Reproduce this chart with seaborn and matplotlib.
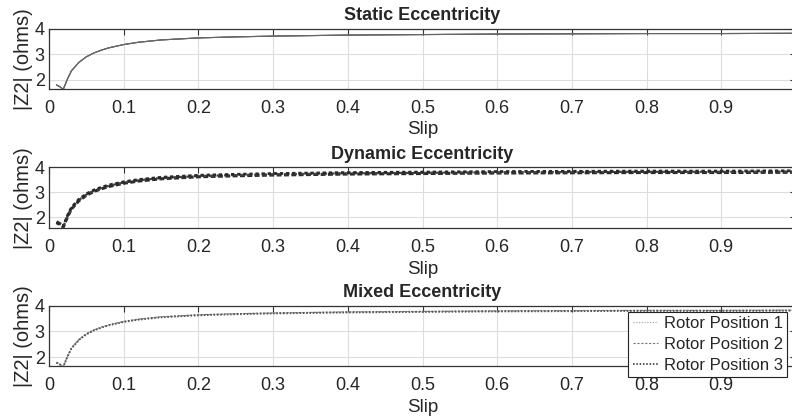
import numpy as np
import pandas as pd
import matplotlib
matplotlib.use("Agg")
import matplotlib.pyplot as plt
import seaborn as sns

# ---- data ----
slip = [0.010, 0.015, 0.019, 0.025, 0.030, 0.040, 0.050, 0.060, 0.070, 0.080,
        0.100, 0.120, 0.150, 0.200, 0.250, 0.300, 0.400, 0.500, 0.600, 0.700,
        0.800, 0.900, 1.000]

static_z = [1.80, 1.72, 1.62, 2.05, 2.35, 2.68, 2.90, 3.05, 3.16, 3.25,
            3.38, 3.47, 3.56, 3.64, 3.68, 3.71, 3.75, 3.77, 3.79, 3.80,
            3.81, 3.81, 3.82]

dynamic_z1 = [1.82, 1.74, 1.60, 2.03, 2.33, 2.66, 2.88, 3.03, 3.14, 3.23,
              3.36, 3.45, 3.54, 3.62, 3.66, 3.69, 3.73, 3.75, 3.77, 3.78,
              3.79, 3.79, 3.80]
dynamic_z2 = [1.80, 1.72, 1.62, 2.06, 2.36, 2.69, 2.91, 3.06, 3.17, 3.26,
              3.39, 3.48, 3.57, 3.65, 3.69, 3.72, 3.76, 3.78, 3.80, 3.81,
              3.82, 3.82, 3.83]
dynamic_z3 = [1.78, 1.70, 1.64, 2.09, 2.39, 2.72, 2.94, 3.09, 3.20, 3.29,
              3.42, 3.51, 3.60, 3.68, 3.72, 3.75, 3.79, 3.81, 3.83, 3.84,
              3.85, 3.85, 3.86]

mixed_z1 = [1.80, 1.72, 1.62, 2.05, 2.35, 2.68, 2.90, 3.05, 3.16, 3.25,
            3.38, 3.47, 3.56, 3.64, 3.68, 3.71, 3.75, 3.77, 3.79, 3.80,
            3.81, 3.81, 3.82]
mixed_z2 = [1.81, 1.73, 1.62, 2.06, 2.36, 2.69, 2.91, 3.06, 3.17, 3.26,
            3.39, 3.48, 3.57, 3.65, 3.69, 3.72, 3.76, 3.78, 3.80, 3.81,
            3.82, 3.82, 3.83]
mixed_z3 = [1.79, 1.71, 1.63, 2.04, 2.34, 2.67, 2.89, 3.04, 3.15, 3.24,
            3.37, 3.46, 3.55, 3.63, 3.67, 3.70, 3.74, 3.76, 3.78, 3.79,
            3.80, 3.80, 3.81]

titles = ["Static Eccentricity", "Dynamic Eccentricity", "Mixed Eccentricity"]
positions = ["Rotor Position 1", "Rotor Position 2", "Rotor Position 3"]
x_ticks = [0, 0.1, 0.2, 0.3, 0.4, 0.5, 0.6, 0.7, 0.8, 0.9, 1.0]
x_tick_labels = ["0", "0.1", "0.2", "0.3", "0.4", "0.5", "0.6", "0.7", "0.8", "0.9", "1"]
y_ticks = [2, 3, 4]

# ---- styling ----
sns.set_theme(style="white")
plt.rcParams["font.family"] = ["Liberation Sans", "DejaVu Sans"]
plt.rcParams["xtick.direction"] = "in"
plt.rcParams["ytick.direction"] = "in"

fig = plt.figure(figsize=(7.92, 4.19), dpi=100)

left = 49 / 792
width = (796 - 49) / 792
tops = [28.7, 167.3, 305.7]
bottoms = [89.0, 228.3, 366.3]
ylims = [(1.64, 4.0), (1.56, 4.0), (1.65, 4.0)]

series = [
    [static_z, static_z, static_z],
    [dynamic_z1, dynamic_z2, dynamic_z3],
    [mixed_z1, mixed_z2, mixed_z3],
]
styles = [
    [dict(color="#666666", lw=0.8, ls="-"),
     dict(color="#666666", lw=0.8, ls="-"),
     dict(color="#666666", lw=0.8, ls="-")],
    [dict(color="#2a2a2a", lw=2.2, ls=(0, (1.6, 0.8))),
     dict(color="#444444", lw=1.6, ls=(0, (2.2, 1.2))),
     dict(color="#2a2a2a", lw=2.0, ls=(0, (1.2, 1.0)))],
    [dict(color="#aaaaaa", lw=0.9, ls=(0, (1, 1.2))),
     dict(color="#777777", lw=0.8, ls=(0, (2, 1.5))),
     dict(color="#555555", lw=1.4, ls=(0, (0.8, 0.9)))],
]

axes = []
for i in range(3):
    b = 1 - bottoms[i] / 419
    h = (bottoms[i] - tops[i]) / 419
    ax = fig.add_axes([left, b, width, h])
    axes.append(ax)
    for j in range(3):
        df = pd.DataFrame({"Slip": slip, "Z": series[i][j]})
        sns.lineplot(data=df, x="Slip", y="Z", ax=ax, label=positions[j],
                     legend=False, estimator=None, sort=False, **styles[i][j])
    ax.set_xlim(0, 1)
    ax.set_ylim(*ylims[i])
    ax.set_xticks(x_ticks)
    ax.set_xticklabels(x_tick_labels)
    ax.set_yticks(y_ticks)
    ax.tick_params(axis="x", labelsize=13, length=4, width=0.8,
                   color="#333333", top=True, pad=8)
    ax.tick_params(axis="y", labelsize=13, length=4, width=0.8,
                   color="#333333", right=True, pad=3)
    ax.grid(True, color="#dddddd", lw=0.8)
    for s in ax.spines.values():
        s.set_color("#333333")
        s.set_linewidth(0.9)
    ax.set_title(titles[i], fontsize=13, fontweight="bold", pad=6)
    ax.set_xlabel("Slip", fontsize=13.5, labelpad=3)
    ax.set_ylabel("|Z2| (ohms)", fontsize=14.5, labelpad=1)

leg = axes[2].legend(loc="upper right", bbox_to_anchor=(0.9886, 0.896),
                     borderaxespad=0, fontsize=12, frameon=True, fancybox=False,
                     handlelength=1.5, handletextpad=0.4, labelspacing=0.35,
                     borderpad=0.25)
leg.get_frame().set_edgecolor("#222222")
leg.get_frame().set_linewidth(0.8)
leg.get_frame().set_alpha(1)
leg.set_zorder(10)

fig.savefig("out.png", dpi=100)
